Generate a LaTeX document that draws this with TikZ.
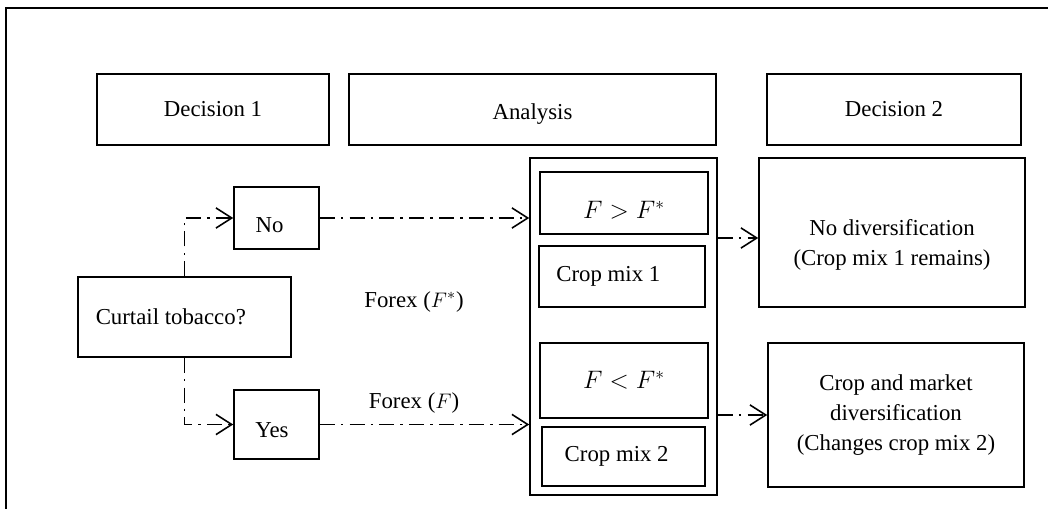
\documentclass[tikz,border=0pt]{standalone}
\usepackage{fontspec}
\setmainfont{Liberation Serif}
\usetikzlibrary{arrows.meta}
\def\px{0.57pt}
\begin{document}
\begin{tikzpicture}[x=0.57pt,y=-0.57pt,
    font=\fontsize{13}{17}\selectfont,
    box/.style={draw,line width=0.9pt,inner sep=0pt,align=center},
    mathbox/.style={box,font=\fontsize{14.5}{17}\selectfont},
    flow/.style={line width=0.9pt,dash pattern=on 8.5pt off 3.5pt on 1.5pt off 3.5pt,
        -{Straight Barb[length=9pt,width=11.5pt,line width=0.9pt]}}]
\useasboundingbox (0,0) rectangle (1048,509);
\draw[line width=1.6pt] (1048,8) -| (6,509);

% headers
\node[box,minimum width=232*\px,minimum height=71*\px] (dec1) at (213,109.5) {Decision 1};
\node[box,minimum width=367*\px,minimum height=71*\px,text height=3.1ex] (ana) at (532.5,109.5) {Analysis};
\node[box,minimum width=254*\px,minimum height=71*\px] (dec2) at (894,109.5) {Decision 2};

% decision 1
\node[box,minimum width=213*\px,minimum height=80*\px] (curtail) at (184.5,317) {Curtail tobacco?\hspace{1.2em}};
\node[box,minimum width=85*\px,minimum height=62*\px,text height=3.7ex] (no) at (276.5,218) {No\hspace{0.6em}};
\node[box,minimum width=85*\px,minimum height=69*\px,text height=3.2ex] (yes) at (276.5,424.5) {Yes\hspace{0.4em}};
\node (forexs) at (414,302) {Forex ($F^{*}$)};
\node (forex) at (414,403) {Forex ($F$)};

% analysis
\node[box,minimum width=187*\px,minimum height=337*\px] (outer) at (623.5,326.5) {};
\node[mathbox,minimum width=168*\px,minimum height=62*\px,text height=4ex] (gt) at (624,203) {$F > F^{*}$};
\node[box,minimum width=166*\px,minimum height=61*\px] (mix1) at (622,276.5) {Crop mix 1\hspace{1.2em}};
\node[mathbox,minimum width=168*\px,minimum height=75*\px] (lt) at (624,380.5) {$F < F^{*}$};
\node[box,minimum width=163*\px,minimum height=59*\px] (mix2) at (623.5,456.5) {Crop mix 2\hspace{0.6em}};

% decision 2
\node[box,minimum width=266*\px,minimum height=149*\px] (nodiv) at (892,232.5) {\mbox{}\\[0.5em]No diversification\\(Crop mix 1 remains)};
\node[box,minimum width=256*\px,minimum height=144*\px] (cropdiv) at (896,415) {Crop and market\\diversification\\(Changes crop mix 2)};

\draw[flow] (curtail.north) |- (no.west);
\draw[flow] (curtail.south) |- (yes.west);
\draw[flow] (no.east) -- (no.east -| outer.west);
\draw[flow] (yes.east) -- (yes.east -| outer.west);
\draw[flow] (outer.east |- 0,238) -- (nodiv.west |- 0,238);
\draw[flow] (outer.east |- cropdiv.west) -- (cropdiv.west);
\end{tikzpicture}
\end{document}
